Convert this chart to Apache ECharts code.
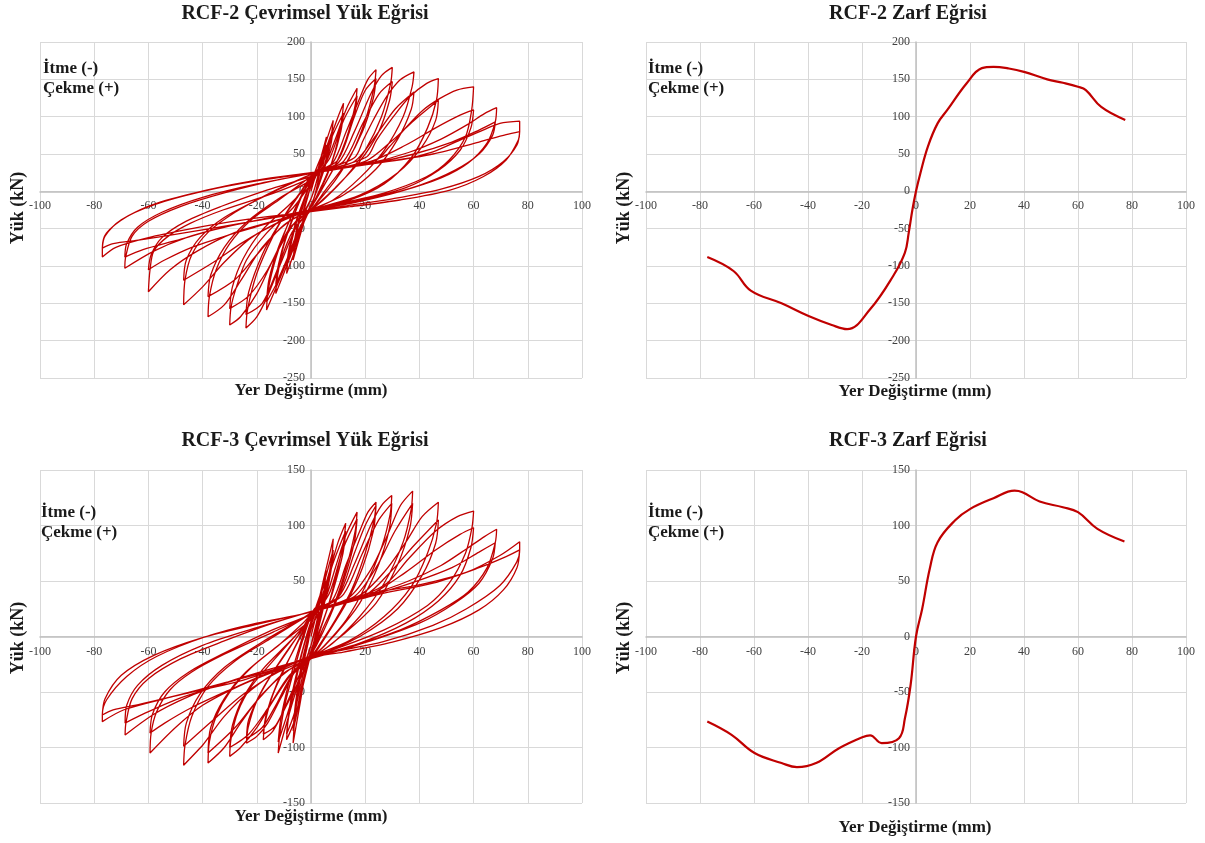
<!DOCTYPE html>
<html>
<head>
<meta charset="utf-8">
<title>RCF-2 / RCF-3</title>
<script src="https://cdn.jsdelivr.net/npm/echarts/dist/echarts.min.js"></script>
<style>
    html, body { margin: 0; padding: 0; background: #fff; }
    #chart { width: 1205px; height: 843px; }
</style>
</head>
<body>
<div id="chart"></div>
<script>
    // eksen degerleri
    var xTicks = { min: -100, max: 100, step: 20 };
    var rcf2Y = { min: -250, max: 200, step: 50 };
    var rcf3Y = { min: -150, max: 150, step: 50 };

    // RCF-2 cevrimsel (her genlik icin iki cevrim), [yer degistirme mm, yuk kN]
    var rcf2Loop03 = [[0,0],[1.5,18],[3,30],[2.5,20],[1,0],[0,-10],[-1.5,-22],[-3,-35],[-2.5,-25],[-1,-5],[0,8],
        [1.5,20],[3,26],[2,12],[0,-10],[-3,-30],[-2,-14],[0,6]];
    var rcf2Loop06 = [[2,22],[4,50],[5.7,73],[5,55],[3,20],[1,-10],[-2,-35],[-4.5,-65],[-6.6,-92],[-6,-72],[-4,-35],[-1,5],[1,22],
        [3,40],[5.7,62],[5,45],[3,12],[0,-20],[-3,-45],[-6.6,-80],[-5.8,-60],[-3.5,-25],[0,12]];
    var rcf2Loop08 = [[2,24],[5,60],[8.2,95],[7.5,75],[5,35],[2,0],[0,-20],[-3,-45],[-6,-80],[-9,-110],[-8.3,-88],[-6,-50],[-3,-15],[0,12],[2,25],
        [5,52],[8.2,85],[7.3,62],[4.5,25],[1,-10],[-3,-40],[-6,-72],[-9,-100],[-8,-75],[-5.5,-40],[-2,-5],[1,22]];
    var rcf2Loop12 = [[3,30],[7,70],[10,100],[12,118],[11.3,95],[9,55],[6,22],[2,-8],[-1,-28],[-5,-60],[-9,-100],[-13,-137],[-12.3,-112],[-10,-72],[-6,-30],[-2,5],[1,24],
        [4,35],[8,75],[12,105],[11,80],[8,42],[4,8],[0,-22],[-5,-55],[-9,-92],[-13,-125],[-12,-98],[-9,-58],[-5,-20],[-1,12],[2,25]];
    var rcf2Loop17 = [[5,35],[9,70],[13,110],[17,138],[16.3,115],[13,70],[9,35],[4,3],[0,-22],[-4,-48],[-9,-95],[-13,-130],[-16.4,-159],[-15.8,-132],[-13,-90],[-9,-48],[-4,-10],[0,15],[3,26],
        [7,45],[12,95],[17,128],[16,102],[12,58],[7,22],[2,-10],[-3,-40],[-8,-85],[-12.5,-122],[-16.4,-148],[-15.5,-118],[-12,-75],[-7,-32],[-2,5],[2,25]];
    var rcf2Loop24 = [[8,38],[13,80],[18,125],[21,150],[24,163],[23.3,140],[20,95],[15,50],[9,15],[3,-12],[0,-25],[-5,-45],[-11,-95],[-16,-140],[-20,-168],[-24,-183],[-23.4,-158],[-20,-110],[-14,-60],[-8,-22],[-2,8],[2,25],
        [10,42],[16,100],[20,135],[24,151],[23,125],[19,80],[13,38],[6,5],[0,-25],[-7,-55],[-13,-110],[-18,-150],[-24,-165],[-23,-135],[-18,-85],[-12,-45],[-5,-8],[1,24]];
    var rcf2Loop30 = [[10,38],[16,80],[22,130],[26,155],[30,166],[29.4,145],[26,100],[20,55],[13,20],[5,-10],[0,-25],[-6,-42],[-14,-92],[-20,-137],[-26,-168],[-30,-179],[-29.5,-155],[-27.5,-128],[-23.8,-92],[-16.4,-56],[-6.6,-22],[0,10],[3,25],
        [12,40],[19,90],[25,130],[30,147],[29,122],[25,80],[18,40],[9,5],[0,-25],[-8,-50],[-16,-105],[-23,-140],[-30,-157],[-29,-128],[-25,-90],[-18,-52],[-8,-18],[0,12],[3,25]];
    var rcf2Loop38 = [[16,45],[19.3,68.7],[23,95.5],[27.9,126.7],[32.8,149],[38,160],[37.3,140],[34,100],[27,55],[18,18],[8,-12],[0,-25],[-8,-40],[-18,-75],[-26,-120],[-32,-152],[-38,-168],[-37.5,-141],[-35,-105],[-30,-70],[-22,-38],[-12,-12],[-3,12],[2,25],
        [16,40],[24,75],[31,110],[38,133],[37,110],[32,70],[24,30],[12,-5],[0,-25],[-10,-45],[-20,-85],[-28,-118],[-38,-141],[-37,-112],[-32,-75],[-24,-42],[-12,-10],[0,15],[3,25]];
    var rcf2Loop47 = [[20.5,46],[24.2,68.7],[30.4,100],[36.4,126.7],[42.7,144.6],[47,151],[46.3,122],[43,85],[37,45],[27,10],[14,-12],[0,-24],[-10,-38],[-22,-62],[-32,-95],[-40,-128],[-47,-152],[-46.5,-119],[-44,-85],[-38,-55],[-28,-28],[-15,-2],[-3,18],[2,25],
        [20,40],[30,68],[38,95],[47,122],[46,95],[41,60],[32,25],[18,-5],[0,-25],[-12,-42],[-25,-68],[-36,-95],[-47,-119],[-46,-92],[-41,-62],[-32,-35],[-18,-8],[-4,16],[2,25]];
    var rcf2Loop60 = [[24,42],[29,60],[35.3,86.5],[41.4,109],[47.6,124.5],[53.8,135.7],[60,140],[59.3,109],[57,73],[51,42],[42.6,19.5],[26.6,-2.7],[8,-18],[0,-24],[-12,-38],[-28,-55],[-42,-80],[-52,-105],[-60,-134.5],[-59.4,-105],[-58,-80],[-53,-61],[-44.6,-43],[-32.5,-25],[-14,-2.7],[0,18],[2,25],
        [22,40],[35,62],[46,85],[55,102],[60,109],[59,85],[55,55],[47,28],[35,5],[18,-12],[0,-25],[-15,-42],[-30,-58],[-44,-75],[-54,-92],[-60,-105],[-59,-85],[-55,-62],[-46,-40],[-33,-20],[-16,2],[0,20],[2,25]];
    var rcf2Loop69 = [[22,38],[36,52],[48,70],[58,90],[64,104],[68.5,112],[68,93],[65,65],[58,38],[48,18],[33,0],[16,-15],[0,-25],[-16,-36],[-32,-48],[-46,-62],[-58,-80],[-68.7,-103],[-68.4,-88],[-66,-60],[-60,-40],[-48,-20],[-32,-2],[-14,14],[2,25],
        [22,37],[38,50],[52,66],[62,82],[68,93],[67,75],[62,50],[53,28],[40,8],[22,-10],[0,-26],[-16,-36],[-34,-50],[-50,-66],[-62,-78],[-68.7,-88],[-68,-70],[-64,-48],[-55,-28],[-40,-8],[-20,10],[2,25]];
    var rcf2Loop77 = [[20,37],[32.8,42],[45,53],[55,68.7],[63.5,82],[69.7,91],[77,94],[77,80],[76.5,68.7],[72,42],[63.5,19.5],[51.3,1.7],[32.8,-11.6],[14.4,-20.6],[0,-27],[-16,-34],[-30,-41],[-44,-50],[-60,-62],[-72,-75],[-77,-88],[-77,-76],[-75.5,-56],[-68,-34],[-57,-16],[-38.6,1.7],[-20,15],[0,25],
        [25,38],[45,50],[62,66],[72,76],[77,80],[76,62],[71,40],[62,20],[48,3],[30,-10],[12,-20],[0,-27],[-26,-43],[-44,-54],[-63,-65],[-73,-70],[-77,-76],[-76,-60],[-70,-38],[-58,-18],[-40,0],[-20,14],[0,24]];

    // RCF-3 cevrimsel
    var rcf3Loop03 = [[0,0],[1.5,15],[3,28],[2.5,18],[1,2],[0,-8],[-1.5,-20],[-3,-35],[-2.5,-22],[-1,-5],[0,8],
        [1.5,15],[3,22],[2,10],[0,-8],[-3,-28],[-2,-12],[0,6]];
    var rcf3Loop06 = [[2,20],[4,40],[5.5,60],[5,45],[3,18],[1,-5],[-1.5,-25],[-4,-60],[-6.6,-96],[-6,-75],[-4,-38],[-1,0],[1,20],
        [3,35],[5.5,50],[4.8,35],[2.5,10],[0,-15],[-3,-45],[-6.6,-85],[-5.8,-62],[-3.5,-25],[0,10]];
    var rcf3Loop08 = [[2,24],[5,55],[8.2,88],[7.6,70],[5,35],[2,5],[0,-15],[-3,-40],[-6,-75],[-9,-93],[-8.4,-75],[-6,-45],[-3,-12],[0,12],[2,24],
        [5,50],[8.2,78],[7.3,58],[4.5,25],[1,-8],[-3,-35],[-6,-68],[-9,-88],[-8,-65],[-5.5,-35],[-2,-2],[1,20]];
    var rcf3Loop12 = [[3,28],[7,60],[10,85],[12.8,102],[12,85],[9,52],[6,25],[2,-2],[-1,-20],[-5,-45],[-9,-78],[-12.1,-105],[-11.5,-88],[-9.5,-60],[-6,-28],[-2,5],[1,24],
        [4,32],[8,65],[12.8,95],[11.8,75],[8,40],[4,10],[0,-18],[-5,-42],[-9,-72],[-12.1,-95],[-11.2,-75],[-8.5,-45],[-5,-15],[-1,14],[2,24]];
    var rcf3Loop17 = [[5,32],[9,62],[13,92],[17,112],[16.3,95],[13,62],[9,32],[4,5],[0,-18],[-4,-38],[-9,-62],[-14,-85],[-17.6,-93],[-17,-78],[-14,-52],[-9,-25],[-4,0],[0,18],[3,25],
        [7,40],[12,80],[17,106],[16,85],[12,50],[7,18],[2,-8],[-3,-28],[-8,-55],[-13,-80],[-17.6,-88],[-16.5,-70],[-12.5,-42],[-7,-15],[-2,8],[2,24]];
    var rcf3Loop24 = [[8,33],[13,65],[18,95],[21,112],[24,121],[23.3,105],[20,75],[15,42],[9,15],[3,-8],[0,-18],[-5,-28],[-11,-55],[-16,-78],[-20,-90],[-23.8,-96],[-23.2,-82],[-20,-58],[-14,-32],[-8,-10],[-2,10],[2,24],
        [10,36],[16,75],[20,100],[24,118],[23,95],[19,62],[13,30],[6,2],[0,-20],[-7,-35],[-13,-62],[-18,-82],[-23.8,-92],[-23,-75],[-18,-48],[-12,-25],[-5,0],[1,22]];
    var rcf3Loop30 = [[10,35],[16,65],[22,100],[26,118],[29.8,127],[29.2,110],[26,80],[20,45],[13,15],[5,-8],[0,-19],[-6,-30],[-14,-58],[-20,-82],[-26,-100],[-30,-108],[-29.5,-92],[-27,-68],[-22,-45],[-14,-22],[-6,0],[0,16],[3,24],
        [12,38],[19,75],[25,105],[29.8,120],[29,98],[25,65],[18,30],[9,2],[0,-20],[-8,-35],[-16,-65],[-23,-88],[-30,-100],[-29,-80],[-25,-55],[-18,-30],[-8,-5],[0,16],[3,24]];
    var rcf3Loop38 = [[14,35],[22,60],[28,90],[33,118],[37.5,131],[37,115],[34,85],[27,48],[18,18],[8,-6],[0,-19],[-8,-30],[-18,-52],[-26,-78],[-32,-100],[-38,-114],[-37.5,-95],[-35,-72],[-30,-50],[-22,-28],[-12,-8],[-3,12],[2,24],
        [16,36],[24,62],[31,95],[37.5,120],[36.5,98],[32,65],[24,30],[12,2],[0,-20],[-10,-33],[-20,-58],[-28,-82],[-38,-105],[-37,-82],[-32,-56],[-24,-32],[-12,-8],[0,15],[3,24]];
    var rcf3Loop47 = [[18,37],[27,58],[35,85],[41,108],[47,121],[46.3,102],[43,75],[37,45],[27,18],[14,-4],[0,-18],[-10,-28],[-22,-48],[-32,-72],[-40,-98],[-47,-116],[-46.5,-98],[-44,-72],[-38,-45],[-28,-22],[-15,-2],[-3,16],[2,24],
        [20,37],[30,60],[38,82],[47,105],[46,84],[41,55],[32,25],[18,0],[0,-20],[-12,-32],[-25,-52],[-36,-75],[-47,-99],[-46,-78],[-41,-52],[-32,-28],[-18,-5],[-4,15],[2,24]];
    var rcf3Loop60 = [[20,38],[28,48],[36,70],[46,95],[54,108],[60,113],[59.4,98],[57,75],[51,48],[43,28],[27,6],[8,-12],[0,-18],[-12,-30],[-26,-44],[-40,-62],[-50,-82],[-59.4,-105],[-59,-87],[-57,-68],[-52,-48],[-44,-32],[-32,-16],[-14,4],[0,20],[2,24],
        [22,38],[35,58],[46,78],[55,92],[60,98],[59,80],[55,55],[47,32],[35,12],[18,-6],[0,-19],[-15,-32],[-30,-48],[-44,-64],[-54,-78],[-59.4,-87],[-58.5,-70],[-54,-50],[-45,-32],[-32,-15],[-16,4],[0,20],[2,24]];
    var rcf3Loop69 = [[22,38],[36,50],[48,64],[58,80],[64,90],[68.5,96.6],[68,84.5],[65,62],[58,40],[48,24],[33,6],[16,-8],[0,-19],[-16,-30],[-32,-42],[-46,-55],[-58,-70],[-68.6,-88.7],[-68.3,-78],[-66,-56],[-60,-38],[-48,-20],[-32,-4],[-14,12],[2,24],
        [22,37],[38,49],[52,62],[62,76],[68,84.5],[67,70],[62,48],[53,30],[40,12],[22,-4],[0,-20],[-16,-30],[-34,-44],[-50,-57],[-62,-70],[-68.6,-78],[-68,-62],[-64,-44],[-55,-26],[-40,-8],[-20,8],[2,24]];
    var rcf3Loop77 = [[20,38],[39,46],[57.5,58],[69.7,73],[77,85.4],[77,78],[75.9,67],[69.7,46],[57.4,25],[45,10],[26.7,-4.7],[8.2,-13.7],[0,-18],[-14,-30],[-32.4,-42],[-50.8,-54],[-69,-66],[-77,-76.7],[-77,-70.7],[-75.4,-57],[-68,-36],[-57,-18],[-38.6,0],[-20,12],[-1.6,21],
        [25,38],[45,48],[62,62],[72,72],[77,78],[76,62],[71,42],[62,24],[48,8],[30,-5],[12,-14],[0,-19],[-26,-40],[-44,-50],[-63,-61],[-73,-66],[-77,-70.7],[-76,-56],[-70,-35],[-58,-17],[-40,-1],[-20,11],[0,22]];

    // zarf egrileri
    var rcf2Envelope = [[-77.3,-88],[-67.6,-106.7],[-61.2,-133],[-49.8,-150],[-39.8,-167],[-31.2,-179],[-25.5,-184.5],[-17,-158],[-8.4,-113],[-4.1,-82],[-2.7,-55.6],[-1.3,-24],[0,0],
        [1.6,24],[4.4,60],[8,91],[11.6,109],[18.7,144.5],[24.4,165],[28.7,166.7],[34.4,164.5],[40,160],[48.6,150],[54.4,145.4],[60,140],[62.9,135.6],[68.6,113],[77.5,95.6]];
    var rcf3Envelope = [[-77.3,-76.6],[-68.3,-88.6],[-59.8,-105],[-49.8,-114],[-44.1,-117.7],[-37,-114],[-28.5,-100.6],[-19.9,-90.7],[-17,-89],[-12.7,-96],[-6.3,-91.6],[-4.1,-73.7],[-2,-43.7],[0,0],
        [2.3,25],[5.1,61],[8,85],[14.4,104.5],[20.1,115],[28.7,124.6],[36.5,131.4],[39.4,130],[45.8,121.6],[54.4,116.5],[60,112],[67.2,97],[77.2,85.6]];

    var rcf2Loops = [rcf2Loop03, rcf2Loop06, rcf2Loop08, rcf2Loop12, rcf2Loop17, rcf2Loop24, rcf2Loop30, rcf2Loop38, rcf2Loop47, rcf2Loop60, rcf2Loop69, rcf2Loop77];
    var rcf3Loops = [rcf3Loop03, rcf3Loop06, rcf3Loop08, rcf3Loop12, rcf3Loop17, rcf3Loop24, rcf3Loop30, rcf3Loop38, rcf3Loop47, rcf3Loop60, rcf3Loop69, rcf3Loop77];

    var lineRed = '#c00000';
    var serif = '"Liberation Serif", "Times New Roman", serif';

    var mychart = echarts.init(document.getElementById('chart'));

    // 4 grafik alani
    var grids = [
        { left: 40, top: 42, width: 542, height: 336 },
        { left: 646, top: 42, width: 540, height: 336 },
        { left: 40, top: 470, width: 542, height: 333 },
        { left: 646, top: 470, width: 540, height: 333 }
    ];

    // eksenleri sifir noktasina tasi (Excel gibi)
    function zeroShiftX(g, r) {
        return -(g.height * (0 - r.min) / (r.max - r.min));
    }
    function zeroShiftY(g) {
        return -(g.width * (0 - xTicks.min) / (xTicks.max - xTicks.min));
    }

    function xAxisOf(i, r) {
        return {
            gridIndex: i, type: 'value', position: 'bottom',
            offset: zeroShiftX(grids[i], r),
            min: xTicks.min, max: xTicks.max, interval: xTicks.step,
            axisLine: { onZero: false, lineStyle: { color: '#bfbfbf', width: 1.5 } },
            axisTick: { show: false },
            axisLabel: { color: '#404040', fontFamily: serif, fontSize: 12, margin: 9 },
            splitLine: { lineStyle: { color: '#d9d9d9' } }
        };
    }
    function yAxisOf(i, r) {
        return {
            gridIndex: i, type: 'value', position: 'left',
            offset: zeroShiftY(grids[i]),
            min: r.min, max: r.max, interval: r.step,
            axisLine: { onZero: false, lineStyle: { color: '#bfbfbf', width: 1.5 } },
            axisTick: { show: false },
            axisLabel: { color: '#404040', fontFamily: serif, fontSize: 12, margin: 6 },
            splitLine: { lineStyle: { color: '#d9d9d9' } }
        };
    }

    function txt(x, y, s, size, rot, align) {
        return {
            type: 'text', x: x, y: y, rotation: rot || 0, z: 100,
            style: {
                text: s, fill: '#1a1a1a',
                font: 'bold ' + size + 'px ' + serif,
                textAlign: align || 'center', textVerticalAlign: 'middle',
                align: align || 'center', verticalAlign: 'middle'
            }
        };
    }

    var texts = [
        txt(305, 14, 'RCF-2 Çevrimsel Yük Eğrisi', 20),
        txt(908, 14, 'RCF-2 Zarf Eğrisi', 20),
        txt(305, 441, 'RCF-3 Çevrimsel Yük Eğrisi', 20),
        txt(908, 441, 'RCF-3 Zarf Eğrisi', 20),
        txt(311, 391, 'Yer Değiştirme (mm)', 17),
        txt(915, 392, 'Yer Değiştirme (mm)', 17),
        txt(311, 817, 'Yer Değiştirme (mm)', 17),
        txt(915, 828, 'Yer Değiştirme (mm)', 17),
        txt(18, 208, 'Yük (kN)', 18, Math.PI / 2),
        txt(624, 208, 'Yük (kN)', 18, Math.PI / 2),
        txt(18, 638, 'Yük (kN)', 18, Math.PI / 2),
        txt(624, 638, 'Yük (kN)', 18, Math.PI / 2),
        txt(43, 69, 'İtme (-)', 17, 0, 'left'),
        txt(43, 89, 'Çekme (+)', 17, 0, 'left'),
        txt(648, 69, 'İtme (-)', 17, 0, 'left'),
        txt(648, 89, 'Çekme (+)', 17, 0, 'left'),
        txt(41, 513, 'İtme (-)', 17, 0, 'left'),
        txt(41, 533, 'Çekme (+)', 17, 0, 'left'),
        txt(648, 513, 'İtme (-)', 17, 0, 'left'),
        txt(648, 533, 'Çekme (+)', 17, 0, 'left')
    ];

    var option = {
        backgroundColor: '#ffffff',
        animation: false,
        grid: grids,
        xAxis: [xAxisOf(0, rcf2Y), xAxisOf(1, rcf2Y), xAxisOf(2, rcf3Y), xAxisOf(3, rcf3Y)],
        yAxis: [yAxisOf(0, rcf2Y), yAxisOf(1, rcf2Y), yAxisOf(2, rcf3Y), yAxisOf(3, rcf3Y)],
        series: [
            {
                name: 'RCF-2 çevrimsel', type: 'line', xAxisIndex: 0, yAxisIndex: 0,
                data: rcf2Loops.flat(), showSymbol: false, smooth: 0.3,
                lineStyle: { color: lineRed, width: 1.3 }
            },
            {
                name: 'RCF-2 zarf', type: 'line', xAxisIndex: 1, yAxisIndex: 1,
                data: rcf2Envelope, showSymbol: false, smooth: 0.4,
                lineStyle: { color: lineRed, width: 2.2 }
            },
            {
                name: 'RCF-3 çevrimsel', type: 'line', xAxisIndex: 2, yAxisIndex: 2,
                data: rcf3Loops.flat(), showSymbol: false, smooth: 0.3,
                lineStyle: { color: lineRed, width: 1.3 }
            },
            {
                name: 'RCF-3 zarf', type: 'line', xAxisIndex: 3, yAxisIndex: 3,
                data: rcf3Envelope, showSymbol: false, smooth: 0.4,
                lineStyle: { color: lineRed, width: 2.2 }
            }
        ],
        graphic: texts
    };
    mychart.setOption(option);
</script>
</body>
</html>
